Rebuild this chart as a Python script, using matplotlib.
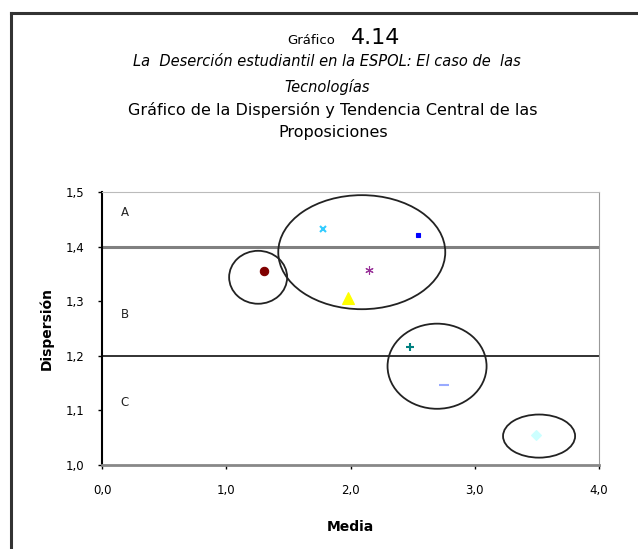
'''
Dispersion vs. mean chart of the propositions (Grafico 4.14)
'''
import matplotlib
matplotlib.use('Agg')
import matplotlib.pyplot as plt
from matplotlib.patches import Ellipse
from matplotlib.lines import Line2D

plt.rcParams['font.family'] = ['DejaVu Sans']

# data
media = [1.30, 1.78, 2.54, 2.15, 1.98, 2.48, 2.75, 3.49]
dispersion = [1.355, 1.432, 1.421, 1.357, 1.306, 1.216, 1.147, 1.055]
colors = ['#800000', '#33CCFF', '#0000FF', '#993399', '#FFFF00', '#008080', '#99AAFF', '#CCFFFF']
markers = ['o', 'x', 's', (6, 2, 0), '^', '+', '_', 'D']
sizes = [6, 5, 3, 6, 9, 6, 7, 5]

# grouping ellipses: center x, center y, width, height
groups_x = [1.256, 2.09, 2.696, 3.517]
groups_y = [1.344, 1.390, 1.181, 1.053]
groups_w = [0.467, 1.344, 0.797, 0.58]
groups_h = [0.097, 0.209, 0.156, 0.079]

zone_labels = ['A', 'B', 'C']
zone_y = [1.462, 1.275, 1.115]
limits = [1.4, 1.2]

xticks = [0.0, 1.0, 2.0, 3.0, 4.0]
yticks = [1.0, 1.1, 1.2, 1.3, 1.4, 1.5]

fig = plt.figure(figsize=(6.38, 5.49), dpi=100)
ax = fig.add_axes([0.160, 0.153, 0.779, 0.497])

# outer frame (top and left edge)
fig.add_artist(Line2D([11/638, 1], [1 - 13/549, 1 - 13/549], color='#333333', lw=2.2))
fig.add_artist(Line2D([11/638, 11/638], [0, 1 - 13/549], color='#333333', lw=2.2))

# limit lines
ax.axhline(limits[0], color='#808080', lw=2.2, zorder=1)
ax.axhline(limits[1], color='#222222', lw=1.3, zorder=1)

for x, y, c, m, s in zip(media, dispersion, colors, markers, sizes):
    ax.plot(x, y, linestyle='none', marker=m, color=c, markersize=s,
            markeredgewidth=1.5 if m in ('x', '+', '_') else 0.8, zorder=3)

for cx, cy, w, h in zip(groups_x, groups_y, groups_w, groups_h):
    ax.add_patch(Ellipse((cx, cy), w, h, fill=False, edgecolor='#222222', lw=1.3, zorder=2))

for lab, y in zip(zone_labels, zone_y):
    ax.text(0.15, y, lab, fontsize=8.5, ha='left', va='center', color='#222222')

ax.set_xlim(0, 4)
ax.set_ylim(1.0, 1.5)
ax.set_xticks(xticks)
ax.set_yticks(yticks)
ax.set_xticklabels([f'{v:.1f}'.replace('.', ',') for v in xticks], fontsize=8.5)
ax.set_yticklabels([f'{v:.1f}'.replace('.', ',') for v in yticks], fontsize=8.5)
ax.tick_params(axis='x', direction='out', length=3, width=1, pad=11)
ax.tick_params(axis='y', direction='out', length=3, width=1, pad=10)

ax.spines['left'].set_color('black')
ax.spines['left'].set_linewidth(1.5)
ax.spines['bottom'].set_color('#888888')
ax.spines['bottom'].set_linewidth(2)
ax.spines['top'].set_color('#bbbbbb')
ax.spines['right'].set_color('#999999')

ax.set_xlabel('Media', fontsize=10, fontweight='bold', labelpad=16)
ax.set_ylabel('Dispersión', fontsize=10, fontweight='bold', labelpad=8)

# title block
fig.text(311/638, 1 - 41/549, 'Gráfico', fontsize=9.5, ha='center', va='center')
fig.text(376/638, 1 - 38/549, '4.14', fontsize=16, ha='center', va='center')
fig.text(327/638, 1 - 62/549, 'La  Deserción estudiantil en la ESPOL: El caso de  las',
         fontsize=10.5, style='italic', ha='center', va='center')
fig.text(327/638, 1 - 87/549, 'Tecnologías', fontsize=10.5, style='italic', ha='center', va='center')
fig.text(333/638, 1 - 110/549, 'Gráfico de la Dispersión y Tendencia Central de las',
         fontsize=11.5, ha='center', va='center')
fig.text(333/638, 1 - 133/549, 'Proposiciones', fontsize=11.5, ha='center', va='center')

fig.savefig('out.png', dpi=100)
